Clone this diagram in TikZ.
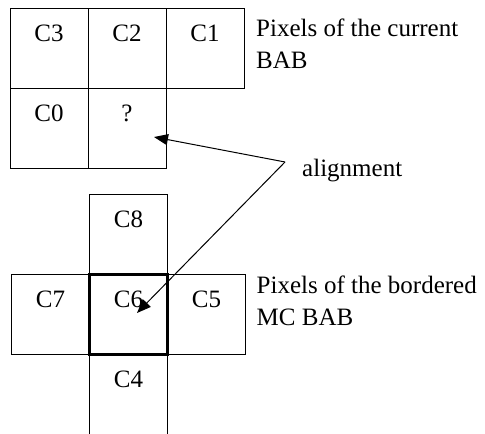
\documentclass[tikz,border=0pt]{standalone}
\usepackage{fontspec}
\setmainfont{Liberation Serif}
\usetikzlibrary{arrows.meta,positioning,calc}

\begin{document}
\begin{tikzpicture}[
    x=1pt,y=1pt,
    node distance=0pt,
    cell/.style={draw,line width=1pt,outer sep=0pt,inner sep=0pt,
      minimum width=78pt,minimum height=80pt,
      text height=17pt,text depth=31pt,font=\fontsize{25}{30}\selectfont},
    note/.style={align=left,inner sep=0pt,anchor=north west,
      font=\fontsize{25}{32}\selectfont},
    >={Triangle[length=14pt,width=11pt]}]
  \useasboundingbox (0,0) rectangle (485,434);
  % pixels of the current BAB
  \node[cell] (C3) at (49,385) {C3};
  \node[cell,right=of C3] (C2) {C2};
  \node[cell,right=of C2] (C1) {C1};
  \node[cell,below=of C3] (C0) {C0};
  \node[cell,below=of C2] (Q) {?};
  \node[note] (cur) at ([xshift=12pt,yshift=-9.5pt]C1.north east) {Pixels of the current\\BAB};
  % pixels of the bordered MC BAB
  \node[cell,line width=2.4pt] (C6) at (128.5,119.5) {C6};
  \node[cell,above=of C6] (C8) {C8};
  \node[cell,left=of C6] (C7) {C7};
  \node[cell,right=of C6] (C5) {C5};
  \node[cell,below=of C6,draw=none] (C4) {C4};
  \draw[line width=1pt] (C4.north west) -- ([yshift=-2pt]C4.south west);
  \draw[line width=1pt] (C4.north east) -- ([yshift=-2pt]C4.south east);
  \node[note] (mc) at ([xshift=11pt,yshift=-1.5pt]C5.north east) {Pixels of the bordered\\MC BAB};
  % alignment
  \node[note,anchor=base west] (align) at (302,257) {alignment};
  \coordinate (fork) at (285,272);
  \draw[->,line width=1pt] (fork) -- ($(Q.center)+(27,-8)$);
  \draw[->,line width=1pt] (fork) -- ($(C6.center)+(8.5,1.5)$);
\end{tikzpicture}
\end{document}
